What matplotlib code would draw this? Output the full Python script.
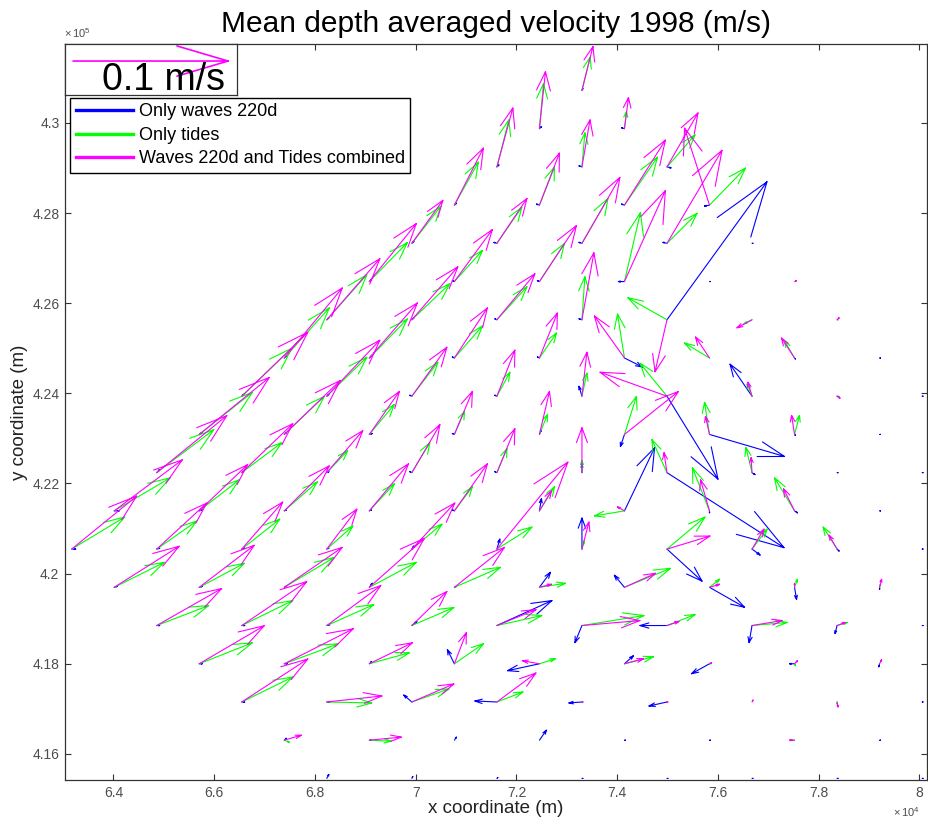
import numpy as np
import matplotlib
matplotlib.use("Agg")
import matplotlib.pyplot as plt
from matplotlib.lines import Line2D

plt.rcParams['font.family'] = ['Liberation Sans', 'DejaVu Sans']
plt.rcParams['mathtext.default'] = 'regular'

# model grid (rotated 45 deg), node (col, row) -> x = X0 + DX*col, y = Y0 - DY*row
grid_x0, grid_dx = 73300.0, 844.0
grid_y0, grid_dy = 430720.0, 848.0
row_first_col = [0, -1, -2, -3, -4, -5, -6, -7, -8, -9, -10, -11, -12, -11, -10, -9, -8, -7, -6]
row_last_col = [0, 1, 2, 3, 4, 5, 6, 7, 8, 7, 8, 7, 8, 7, 8, 7, 8, 7, 8]

# mean velocities in cm/s, one line per grid row, columns left to right
wave_u = [
    [0.06],
    [0.13, -0.19],
    [0.13, -0.19, 0.26],
    [0.13, -0.19, -0.19, -0.32],
    [0.13, -0.19, -0.19, -0.26, 0.06],
    [0.13, -0.13, -0.13, -0.39, 0.06, 0.0],
    [0.13, 0.13, -0.13, -0.19, 6.45, 0.0, 0.0],
    [0.13, 0.13, -0.13, -0.13, 1.16, 0.0, 0.06, 0.06],
    [0.13, 0.13, -0.13, -0.13, -0.19, 3.29, -1.42, 0.13, 0.06],
    [0.19, 0.13, 0.19, -0.13, 0.13, -0.26, 4.84, 0.06, 0.06],
    [0.19, 0.13, 0.13, -0.13, -0.13, 0.0, 7.55, 0.19, 0.06, 0.06],
    [0.32, 0.19, 0.13, 0.13, -0.13, 0.13, 1.94, 0.0, 0.19, 0.06],
    [0.26, 0.19, 0.19, 0.13, 0.13, 0.19, 0.0, 2.26, 0.52, 0.13, 0.06],
    [0.19, 0.19, 0.13, 0.19, 0.13, 0.71, -0.65, 2.26, 0.13, 0.0],
    [0.19, 0.19, 0.19, 0.32, 3.55, -0.45, -1.74, -0.19, -0.13, 0.06],
    [0.19, 0.19, 0.13, -0.45, -2.06, 0.58, -1.16, -0.32, -0.06],
    [0.19, 0.19, -0.52, -1.42, -0.84, -1.16, 0.0, 0.0, 0.06],
    [0.13, 0.13, 0.13, 0.45, 0.06, 0.06, 0.0, 0.06],
    [0.13, 0.06, 0.06, 0.06, 0.06, 0.06, 0.06, 0.06],
]
wave_v = [
    [0.14],
    [0.14, 0.07],
    [0.14, 0.07, -0.07],
    [0.14, 0.07, 0.07, -0.07],
    [0.14, 0.07, 0.07, 0.07, 0.0],
    [0.14, 0.07, 0.07, 0.0, 0.0, 0.0],
    [0.14, 0.14, 0.07, 0.07, 9.95, 0.0, 0.0],
    [0.14, 0.14, 0.07, 0.07, -0.65, 0.0, -0.07, 0.0],
    [0.14, 0.14, 0.07, 0.07, 0.72, -5.98, 2.31, -0.07, 0.0],
    [0.14, 0.14, 0.07, 0.07, 0.36, -0.87, -1.59, -0.07, 0.0],
    [0.22, 0.14, 0.07, 0.07, 0.07, 0.58, -5.41, -0.14, 0.0, 0.0],
    [0.0, 0.07, 0.07, 0.07, 0.07, 0.87, 4.54, -0.14, -0.14, 0.0],
    [0.0, 0.07, 0.07, 0.07, 0.22, 0.72, 2.24, -2.31, -0.43, -0.14, 0.0],
    [0.07, 0.07, 0.07, 0.29, 0.07, 1.08, 0.87, -1.44, -0.87, -0.14],
    [0.0, 0.0, 0.07, 0.29, 1.80, -1.23, 0.0, -1.23, -0.58, 0.0],
    [0.0, 0.0, 0.14, 1.01, -0.50, 0.58, -0.72, 0.0, -0.22],
    [0.0, 0.0, 0.50, 0.07, -0.07, -0.29, 0.0, 0.0, 0.0],
    [0.14, 0.0, 0.22, 0.72, 0.0, 0.0, 0.0, 0.0],
    [0.29, 0.14, 0.07, 0.0, 0.0, 0.0, 0.0, 0.0],
]
tide_u = [
    [0.52],
    [0.26, 0.13],
    [0.77, 0.19, 1.81],
    [1.55, 0.97, 2.13, 2.32],
    [1.87, 1.61, 1.68, 1.94, 0.0],
    [2.45, 1.81, 1.61, 1.03, 0.0, 0.0],
    [2.58, 2.45, 1.94, 0.19, -2.52, -0.52, 0.06],
    [2.90, 2.45, 1.81, 1.10, -0.45, -1.61, -0.65, 0.0],
    [3.23, 2.58, 1.68, 0.84, 0.32, -1.74, -0.32, 0.06, 0.0],
    [3.42, 2.58, 1.61, 0.65, 0.52, 0.77, -0.32, 0.32, 0.0],
    [3.68, 2.58, 1.35, 1.16, 0.65, 0.0, -0.97, -0.39, 0.0, 0.0],
    [3.61, 2.58, 2.13, 1.61, 1.16, 0.97, -1.94, -1.10, -1.29, 0.0],
    [3.42, 2.58, 2.45, 1.68, 1.94, 2.26, 0.13, 2.45, 0.97, -0.90, 0.0],
    [3.23, 2.90, 3.23, 3.03, 2.97, 1.68, 2.97, 0.65, 0.19, 0.06],
    [3.35, 3.29, 3.03, 2.71, 2.90, 4.00, 1.81, 2.26, 0.65, 0.0],
    [3.42, 3.48, 2.58, 1.87, 1.03, 1.87, 0.06, 0.06, 0.0],
    [3.29, 2.90, 2.39, 1.68, 0.06, 0.0, 0.0, 0.0, 0.0],
    [0.32, 1.42, 0.0, 0.0, 0.0, 0.0, -0.19, 0.0],
    [0.0, 0.0, 0.0, 0.0, 0.0, 0.0, 0.0, 0.0],
]
tide_v = [
    [2.38],
    [3.24, 1.23],
    [3.39, 2.45, 2.31],
    [3.10, 2.74, 3.46, 2.67],
    [2.67, 2.60, 3.24, 2.16, 0.0],
    [2.81, 2.24, 2.74, 4.97, 0.0, 0.0],
    [3.24, 2.60, 2.38, 3.10, 1.59, -0.29, 0.0],
    [3.61, 2.81, 2.31, 1.80, 3.17, 1.08, 1.23, 0.0],
    [3.46, 2.81, 2.45, 1.73, 1.66, 2.38, 0.87, 0.0, 0.0],
    [3.03, 2.74, 2.16, 1.66, 1.44, 2.74, 2.31, 1.37, 0.0],
    [3.10, 2.16, 1.59, 2.16, 1.73, 0.87, 2.38, 1.80, 0.0, 0.0],
    [2.38, 2.24, 2.09, 1.95, 1.73, 1.73, -0.36, 3.10, 2.38, 0.0],
    [2.31, 2.02, 2.16, 1.66, 1.80, 1.59, 0.58, 2.31, 1.44, 1.59, 0.0],
    [1.80, 1.73, 2.16, 1.80, 1.44, 0.29, 1.37, 0.58, 0.58, 0.22],
    [1.44, 1.80, 1.51, 1.30, 0.72, 0.72, 0.79, 0.22, 0.22, 0.0],
    [1.51, 1.44, 0.79, 1.44, 0.36, 0.50, 0.0, -0.14, 0.0],
    [1.80, -0.07, 0.94, 0.72, 0.0, 0.0, 0.0, -0.14, 0.0],
    [-0.14, -0.07, 0.0, 0.0, 0.0, 0.0, 0.0, 0.0],
    [0.0, 0.0, 0.0, 0.0, 0.0, 0.0, 0.0, 0.0],
]
comb_u = [
    [0.71],
    [0.39, 0.26],
    [1.03, 0.52, 2.00],
    [1.87, 1.29, 2.64, -1.61],
    [2.00, 1.94, 2.45, 3.55, 0.0],
    [3.03, 2.45, 2.39, 2.64, 0.0, 0.13],
    [3.42, 2.97, 2.45, 0.77, -0.77, -0.97, 0.13],
    [3.74, 3.10, 2.13, 1.16, -1.94, -0.90, -0.84, 0.0],
    [4.26, 3.42, 2.26, 1.16, 0.32, -4.32, -0.26, 0.19, 0.0],
    [4.52, 3.61, 1.94, 1.16, 0.65, 3.48, -0.26, -0.19, 0.0],
    [4.52, 3.29, 2.32, 1.81, 1.16, 0.0, -0.19, -0.06, 0.0, 0.0],
    [4.39, 3.10, 2.90, 2.52, 2.13, 0.77, -0.45, -0.58, -0.71, 0.0],
    [4.19, 3.23, 2.64, 1.94, 2.77, 4.58, 0.45, 2.77, 0.77, -0.52, 0.0],
    [4.19, 3.55, 3.74, 3.55, 3.23, 0.77, 2.00, 0.65, 0.0, 0.13],
    [4.19, 4.19, 3.48, 2.26, 2.52, 3.74, 0.77, 1.94, 0.52, 0.0],
    [4.19, 4.45, 2.77, 0.77, -1.10, 1.23, 0.13, 0.19, 0.13],
    [4.26, 3.55, 2.71, 2.52, 0.06, 0.06, 0.06, 0.06, 0.0],
    [1.10, 2.06, 0.0, 0.0, 0.0, 0.0, -0.32, 0.0],
    [0.0, 0.0, 0.0, 0.0, 0.0, 0.0, 0.0, 0.0],
]
comb_v = [
    [3.17],
    [4.11, 2.24],
    [4.25, 3.39, 3.89],
    [4.11, 3.75, 4.69, 5.55],
    [3.10, 3.24, 4.76, 6.71, 0.0],
    [4.18, 3.75, 4.04, 6.56, 0.0, 0.07],
    [4.40, 3.82, 3.32, 4.83, -3.75, -0.58, 0.14],
    [5.05, 3.97, 3.61, 3.24, 3.03, 1.51, 1.44, 0.0],
    [4.61, 4.04, 3.53, 3.32, 3.17, 1.73, 1.01, -0.14, 0.0],
    [4.11, 3.89, 3.10, 3.10, 3.10, 3.10, 1.30, 1.37, 0.0],
    [4.11, 3.53, 3.03, 3.46, 3.17, 3.24, 1.44, 1.08, 0.0, 0.0],
    [3.68, 3.32, 3.24, 3.39, 3.39, 1.44, 0.29, 2.24, 1.59, 0.0],
    [3.82, 3.32, 3.39, 2.88, 3.32, 6.27, 1.95, 0.94, 1.44, 1.01, 0.0],
    [2.96, 3.03, 2.88, 3.53, 2.88, 0.22, 1.01, 0.22, 0.29, 0.58],
    [2.67, 3.17, 2.88, 2.45, 1.15, 0.36, 0.29, 0.36, 0.22, 0.0],
    [2.74, 2.52, 1.51, 2.24, 0.22, 0.36, 0.07, 0.22, 0.29],
    [3.10, 0.43, 1.30, 2.09, 0.0, 0.0, 0.14, -0.36, 0.0],
    [0.36, 0.22, 0.0, 0.0, 0.0, 0.0, 0.0, 0.0],
    [0.0, 0.0, 0.0, 0.0, 0.0, 0.0, 0.0, 0.0],
]

series_names = ['Only waves 220d', 'Only tides', 'Waves 220d and Tides combined']
series_colors = ['#0000ff', '#00ff00', '#ff00ff']
ref_speed = 10.0          # cm/s, reference arrow (0.1 m/s)
arrow_scale = 307.7       # metres of arrow per cm/s

cols, rows = [], []
for j, (a, b) in enumerate(zip(row_first_col, row_last_col)):
    for k in range(a, b + 1, 2):
        cols.append(k)
        rows.append(j)
xs = grid_x0 + grid_dx * np.array(cols)
ys = grid_y0 - grid_dy * np.array(rows)


def flat(rows_list):
    return np.concatenate([np.asarray(r, float) for r in rows_list])


def matlab_quiver(ax, x, y, u, v, color, scale, lw=0.8, zorder=2):
    # arrows drawn like the old MATLAB quiver: shaft + open head in data units
    U = u * scale
    V = v * scale
    x2, y2 = x + U, y + V
    alpha = beta = 0.33
    h1x = x2 - alpha * (U + beta * V)
    h1y = y2 - alpha * (V - beta * U)
    h2x = x2 - alpha * (U - beta * V)
    h2y = y2 - alpha * (V + beta * U)
    nan = np.full_like(x, np.nan)
    px = np.column_stack([x, x2, nan, h1x, x2, h2x, nan]).ravel()
    py = np.column_stack([y, y2, nan, h1y, y2, h2y, nan]).ravel()
    ax.plot(px, py, color=color, lw=lw, zorder=zorder, solid_capstyle='round')


fig = plt.figure(figsize=(9.29, 8.23), dpi=100)
ax = fig.add_axes([0.0700, 0.0522, 0.9279, 0.8943])

pairs = [(wave_u, wave_v), (tide_u, tide_v), (comb_u, comb_v)]
for i, (uu, vv) in enumerate(pairs):
    u = flat(uu)
    v = flat(vv)
    assert len(u) == len(xs) and len(v) == len(xs)
    matlab_quiver(ax, xs, ys, u, v, series_colors[i], arrow_scale, zorder=2 + i)

ax.set_xlim(63040, 80150)
ax.set_ylim(415420, 431750)

xt = np.arange(64000, 80001, 2000)
yt = np.arange(416000, 430001, 2000)
ax.set_xticks(xt)
ax.set_xticklabels([f"{t / 1e4:g}" for t in xt])
ax.set_yticks(yt)
ax.set_yticklabels([f"{t / 1e5:g}" for t in yt])
ax.tick_params(direction='in', length=4, width=0.8, top=True, right=True,
               labelsize=10, labelcolor='#4d4d4d', color='#333333', pad=4)
for s in ax.spines.values():
    s.set_color('#333333')
    s.set_linewidth(0.9)

ax.set_title('Mean depth averaged velocity 1998 (m/s)', fontsize=21.5, pad=9)
ax.set_xlabel('x coordinate (m)', fontsize=13.5, color='#222222', labelpad=0)
ax.set_ylabel('y coordinate (m)', fontsize=13.5, color='#222222', labelpad=3)

fig.text(64 / 929, 1 - 33 / 823, r'$\times\,10^{5}$', fontsize=8, color='#4d4d4d', va='center')
fig.text(893 / 929, 1 - 812 / 823, r'$\times\,10^{4}$', fontsize=8, color='#4d4d4d', va='center')

handles = [Line2D([], [], color=c, lw=2.4) for c in series_colors]
leg = ax.legend(handles, series_names, loc='upper left',
                bbox_to_anchor=(0.006, 0.9266), borderaxespad=0, fontsize=13,
                handlelength=3.2, handletextpad=0.3, labelspacing=0.36,
                borderpad=0.3, fancybox=False, framealpha=1, edgecolor='black')
leg.get_frame().set_linewidth(1.0)
leg.set_zorder(10)

# reference arrow box
ref_ax = fig.add_axes([65 / 929, 1 - 95 / 823, 172 / 929, 51 / 823])
ref_ax.set_xlim(0, 3414)
ref_ax.set_ylim(0, 1132)
ref_ax.set_xticks([])
ref_ax.set_yticks([])
for s in ref_ax.spines.values():
    s.set_color('#333333')
    s.set_linewidth(0.9)
matlab_quiver(ref_ax, np.array([160.0]), np.array([754.0]), np.array([ref_speed]),
              np.array([0.0]), '#ff00ff', arrow_scale, lw=1.2)
ref_ax.text(0.57, 0.30, '0.1 m/s', transform=ref_ax.transAxes, fontsize=27,
            ha='center', va='center')

fig.savefig('out.png', dpi=100)
